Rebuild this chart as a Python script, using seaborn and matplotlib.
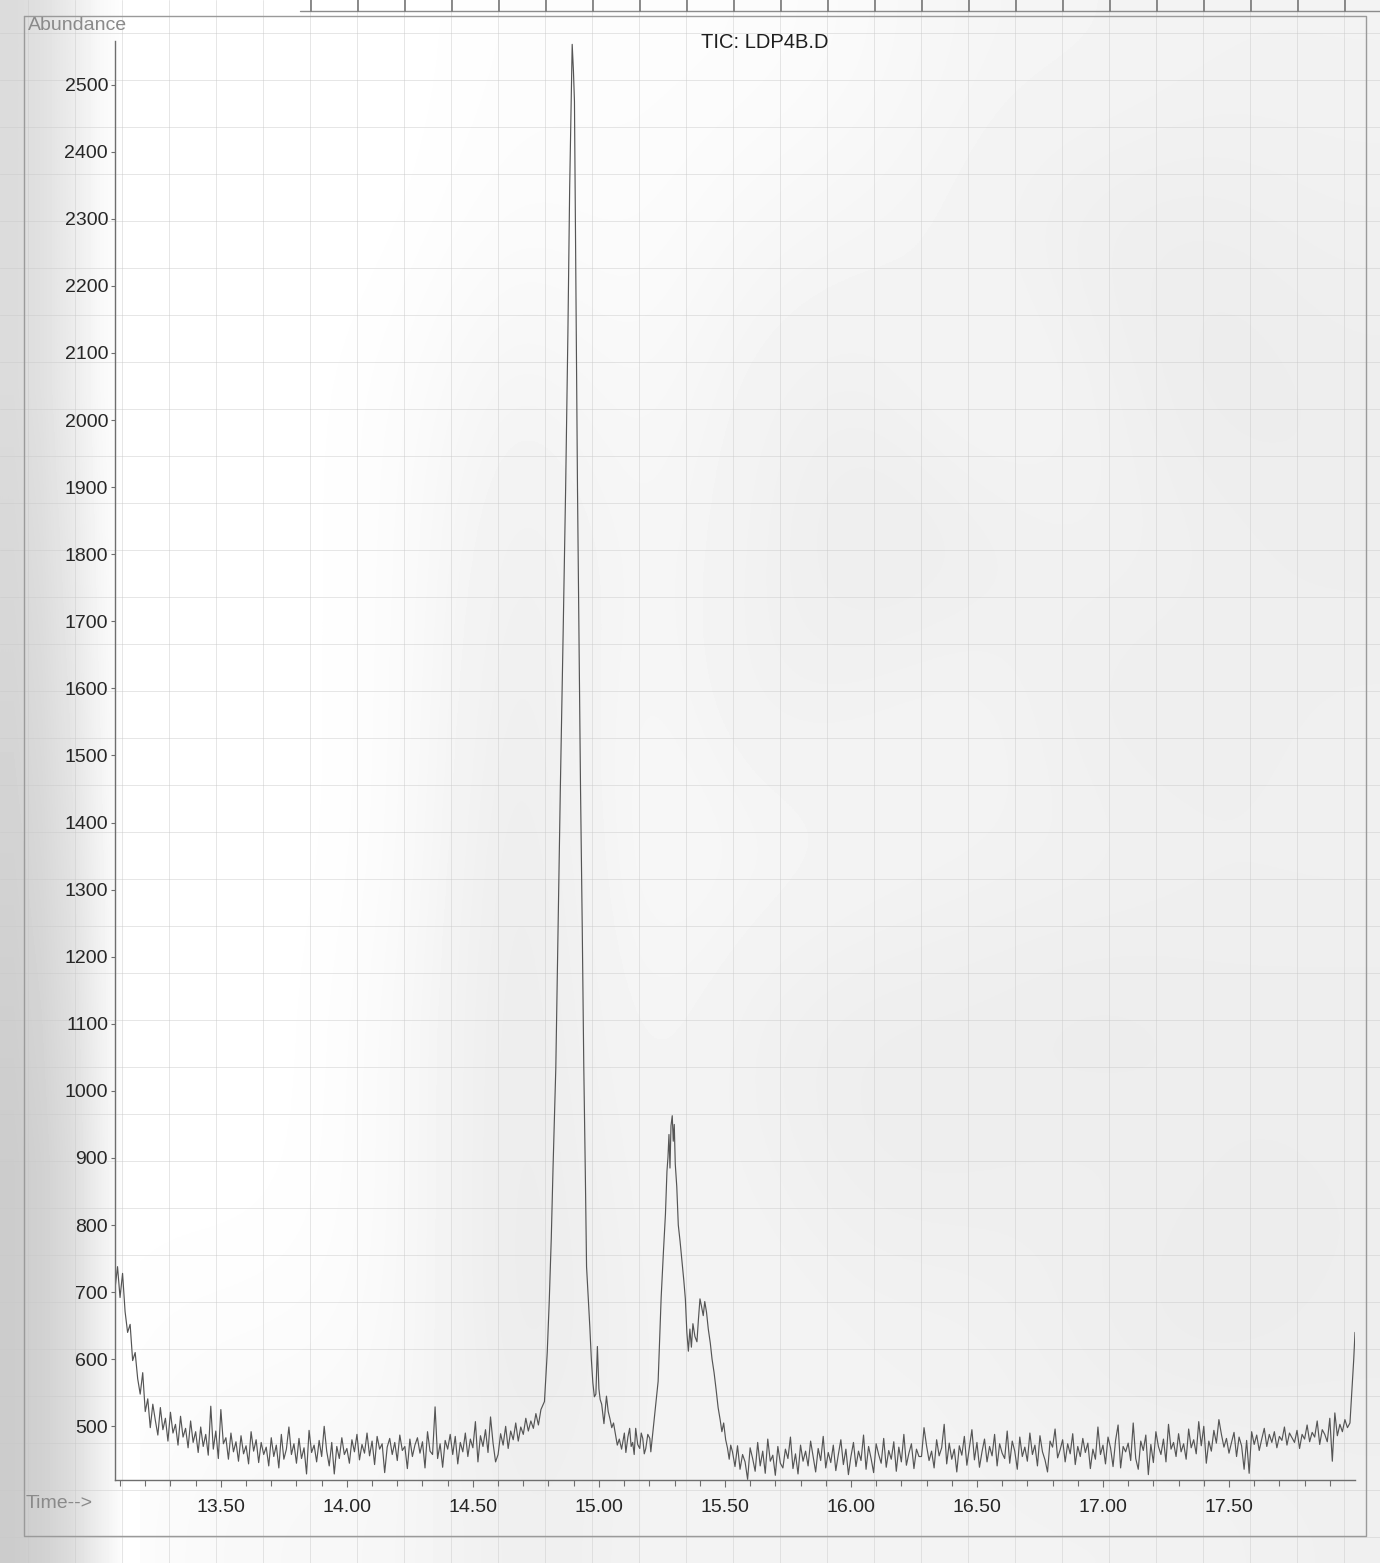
import numpy as np
import pandas as pd
import matplotlib
matplotlib.use("Agg")
import matplotlib.pyplot as plt
import seaborn as sns

# ---------------- TIC trace: LDP4B.D ----------------
# baseline before the main peak, one scan every 0.01 min from 13.08 min
base1_start = 13.08
base1_abund = [
    705, 738, 692, 728, 671, 640, 652, 598, 610, 571,
    548, 580, 522, 541, 498, 533, 509, 487, 528, 495,
    512, 478, 521, 490, 503, 472, 515, 484, 497, 468,
    508, 476, 492, 461, 499, 470, 488, 457, 530, 466,
    493, 452, 525, 474, 483, 451, 490, 462, 477, 448,
    486, 459, 471, 444, 492, 463, 480, 446, 476, 458,
    469, 441, 483, 455, 472, 438, 488, 451, 466, 499,
    458, 474, 445, 482, 452, 468, 429, 494, 461, 472,
    447, 479, 455, 500, 463, 441, 476, 429, 470, 452,
    483, 458, 467, 445, 480, 462, 488, 450, 473, 460,
    490, 456, 478, 443, 485, 466, 474, 431, 469, 482,
    458, 476, 449, 487, 464, 470, 437, 481, 455, 472,
    483, 460, 477, 438, 492, 463, 458, 529, 452, 474,
    439, 479, 466, 488, 458, 485, 444, 476, 462, 490,
    455, 481, 468, 507, 447, 486, 470, 495, 461, 514,
    475, 447, 458, 489, 472, 500, 467, 493, 480, 505,
    478, 499, 488, 512, 493, 508, 497, 519, 502, 525,
]

# main peak, valley and the second (shouldered) peak
peak_time = [
    14.784, 14.795, 14.803, 14.811, 14.818, 14.829, 14.838, 14.847, 14.858, 14.868,
    14.877, 14.884, 14.890, 14.894, 14.899, 14.903, 14.909, 14.915, 14.921, 14.927,
    14.934, 14.940, 14.946, 14.951, 14.958, 14.964, 14.970, 14.976, 14.982, 14.988,
    14.994, 15.000, 15.005, 15.011, 15.020, 15.030, 15.037, 15.044, 15.051, 15.058,
    15.065, 15.073, 15.081, 15.090, 15.101, 15.107, 15.115, 15.122, 15.128, 15.134,
    15.140, 15.146, 15.154, 15.162, 15.168, 15.174, 15.180, 15.186, 15.194, 15.202,
    15.206, 15.213, 15.222, 15.235, 15.241, 15.247, 15.256, 15.264, 15.270, 15.274,
    15.278, 15.282, 15.286, 15.291, 15.295, 15.299, 15.303, 15.309, 15.315, 15.322,
    15.330, 15.337, 15.343, 15.349, 15.355, 15.361, 15.367, 15.373, 15.381, 15.389,
    15.395, 15.401, 15.407, 15.414, 15.420, 15.427, 15.434, 15.442, 15.449, 15.457,
    15.465, 15.473, 15.481, 15.488, 15.495, 15.503, 15.510, 15.517, 15.523,
]
peak_abund = [
    537, 610, 687, 780, 885, 1034, 1240, 1451, 1680, 1898,
    2130, 2346, 2480, 2560, 2520, 2475, 2190, 1900, 1680, 1453,
    1240, 1036, 880, 738, 690, 648, 600, 565, 544, 548,
    619, 556, 540, 533, 504, 545, 522, 511, 498, 505,
    490, 472, 481, 466, 490, 461, 484, 497, 470, 476,
    458, 497, 473, 467, 490, 482, 459, 467, 488, 482,
    462, 487, 520, 567, 630, 692, 760, 816, 880, 901,
    935, 885, 948, 963, 925, 950, 891, 857, 800, 776,
    745, 717, 690, 640, 612, 645, 618, 653, 634, 626,
    660, 690, 679, 665, 686, 670, 645, 624, 600, 580,
    555, 528, 510, 492, 505, 480, 468, 451, 472,
]

# baseline after the peaks, one scan every 0.01 min from 15.53 min
base2_start = 15.53
base2_abund = [
    462, 440, 471, 436, 458, 447, 421, 468, 452, 433,
    476, 441, 463, 430, 481, 448, 457, 427, 470, 445,
    438, 466, 452, 484, 437, 459, 429, 472, 448, 463,
    441, 478, 455, 432, 467, 449, 485, 438, 461, 446,
    472, 434, 458, 480, 443, 466, 428, 455, 476, 440,
    463, 449, 487, 436, 470, 452, 431, 474, 458, 445,
    482, 439, 464, 451, 477, 433, 469, 447, 488, 442,
    460, 474, 437, 466, 455, 455, 498, 471, 449, 463,
    438, 480, 456, 468, 503, 444, 475, 451, 466, 432,
    471, 457, 485, 442, 468, 495, 450, 476, 439, 462,
    481, 447, 470, 456, 488, 441, 474, 460, 452, 493,
    445, 478, 463, 436, 484, 455, 469, 448, 490, 458,
    472, 441, 486, 462, 450, 432, 478, 469, 496, 453,
    465, 480, 447, 474, 459, 489, 443, 470, 455, 482,
    461, 475, 437, 466, 451, 499, 458, 472, 444, 484,
    468, 440, 479, 502, 438, 470, 462, 475, 449, 505,
    452, 436, 478, 464, 487, 428, 473, 446, 492, 470,
    458, 481, 447, 503, 466, 476, 455, 489, 462, 474,
    451, 496, 468, 480, 459, 507, 471, 500, 445, 478,
    463, 494, 475, 510, 488, 469, 482, 460, 476, 491,
    455, 484, 471, 436, 479, 430, 492, 473, 487, 464,
    481, 497, 470, 488, 476, 492, 468, 485, 479, 499,
    472, 490, 483, 476, 494, 467, 488, 481, 502, 477,
    491, 484, 508, 473, 495, 488, 477, 512, 448, 520,
    486, 503, 492, 510, 498,
]

# sharp rise at the end of the window
tail_time = [17.980, 17.988, 17.995, 18.000]
tail_abund = [505, 555, 600, 640]

# axis ticks
y_ticks = [500, 600, 700, 800, 900, 1000, 1100, 1200, 1300, 1400, 1500,
           1600, 1700, 1800, 1900, 2000, 2100, 2200, 2300, 2400, 2500]
x_ticks = [13.5, 14.0, 14.5, 15.0, 15.5, 16.0, 16.5, 17.0, 17.5]
x_tick_labels = ["13.50", "14.00", "14.50", "15.00", "15.50",
                 "16.00", "16.50", "17.00", "17.50"]
chart_title = "TIC: LDP4B.D"

# ---------------- assemble ----------------
t1 = base1_start + 0.01 * np.arange(len(base1_abund))
t2 = base2_start + 0.01 * np.arange(len(base2_abund))
df = pd.DataFrame({
    "time": np.concatenate([t1, peak_time, t2, tail_time]),
    "abundance": np.concatenate([base1_abund, peak_abund, base2_abund, tail_abund]),
})

sns.set_theme(style="white")
plt.rcParams["font.family"] = ["Liberation Sans", "DejaVu Sans"]

W, H = 1380, 1563
fig = plt.figure(figsize=(W / 100, H / 100), dpi=100, facecolor="white")

# ---- page background: paper tone, graph-paper grid, printout frame ----
bg = fig.add_axes([0, 0, 1, 1], zorder=0)
bg.set_xlim(0, W)
bg.set_ylim(H, 0)
bg.axis("off")

# uneven paper tone of the scanned sheet
paper_tone = np.array([
    [1.00, 1.00, 1.00, 1.00, 0.99, 0.99, 0.99, 0.98, 0.96, 0.96, 0.95, 0.95],
    [1.00, 1.00, 1.00, 1.00, 0.98, 0.99, 0.97, 0.96, 0.95, 0.93, 0.93, 0.94],
    [1.00, 1.00, 1.00, 0.99, 0.95, 0.98, 0.95, 0.94, 0.97, 0.95, 0.92, 0.93],
    [1.00, 1.00, 1.00, 0.99, 0.93, 0.97, 0.95, 0.92, 0.93, 0.95, 0.94, 0.93],
    [1.00, 1.00, 1.00, 0.99, 0.92, 0.98, 0.94, 0.95, 0.96, 0.93, 0.93, 0.94],
    [1.00, 1.00, 1.00, 0.99, 0.91, 0.98, 0.97, 0.96, 0.95, 0.95, 0.94, 0.94],
    [1.00, 1.00, 1.00, 0.98, 0.91, 0.97, 0.94, 0.93, 0.93, 0.92, 0.93, 0.93],
    [1.00, 1.00, 1.00, 0.98, 0.91, 0.96, 0.95, 0.93, 0.93, 0.94, 0.93, 0.93],
    [1.00, 0.99, 0.99, 0.98, 0.91, 0.95, 0.96, 0.95, 0.95, 0.93, 0.92, 0.93],
    [1.00, 0.98, 0.97, 0.97, 0.93, 0.95, 0.96, 0.95, 0.95, 0.95, 0.95, 0.94],
])
bg.imshow(paper_tone, cmap="gray", vmin=0, vmax=1, extent=(0, W, H, 0),
          aspect="auto", interpolation="bicubic", zorder=0)

shade = np.array([[0.86, 0.88, 0.92, 0.97, 1.0],
                  [0.80, 0.82, 0.86, 0.93, 1.0]])
bg.imshow(shade, cmap="gray", vmin=0, vmax=1, extent=(0, 140, H, 0),
          aspect="auto", interpolation="bilinear", zorder=0.5)

for gx in np.arange(28, W, 47):
    bg.plot([gx, gx], [0, H], color="#c8c8c8", lw=0.7, alpha=0.45, zorder=1)
for gy in np.arange(33, H, 47):
    bg.plot([0, W], [gy, gy], color="#c8c8c8", lw=0.7, alpha=0.45, zorder=1)

# row of cells above the printout
bg.plot([300, W], [11, 11], color="#8c8c8c", lw=1.0, zorder=2)
for cx in np.arange(311, W, 47):
    bg.plot([cx, cx], [0, 11], color="#777777", lw=1.2, zorder=2)

# printout frame
frame_col = "#9a9a9a"
bg.plot([24, 1366, 1366, 24, 24], [16, 16, 1536, 1536, 16],
        color=frame_col, lw=1.0, zorder=2)

fig.text(28 / W, 1 - 26 / H, "Abundance", color="#8a8a8a", fontsize=14,
         ha="left", va="center")
fig.text(26 / W, 1 - 1503 / H, "Time-->", color="#8a8a8a", fontsize=14,
         ha="left", va="center")

# ---- chromatogram axes ----
ax_left, ax_right, ax_top, ax_bottom = 115, 1355, 41, 1480
ax = fig.add_axes([ax_left / W, 1 - ax_bottom / H,
                   (ax_right - ax_left) / W, (ax_bottom - ax_top) / H], zorder=3)
ax.patch.set_alpha(0)

sns.lineplot(data=df, x="time", y="abundance", estimator=None, sort=False,
             color="#555555", lw=0.85, ax=ax)

ax.set_xlim(13.08, 18.0)
ax.set_ylim(420, 2565)
ax.set_xticks(x_ticks)
ax.set_xticklabels(x_tick_labels)
ax.set_xticks(np.arange(13.1, 18.0, 0.1), minor=True)
ax.set_yticks(y_ticks)
ax.set_yticklabels([str(v) for v in y_ticks])
ax.set_xlabel("")
ax.set_ylabel("")

for side in ("top", "right"):
    ax.spines[side].set_visible(False)
for side in ("left", "bottom"):
    ax.spines[side].set_color("#6e6e6e")
    ax.spines[side].set_linewidth(1.0)

ax.tick_params(axis="y", which="major", direction="out", length=3, width=0.8,
               color="#6e6e6e", pad=2, labelsize=14, labelcolor="#262626", left=True)
ax.tick_params(axis="x", which="major", direction="out", length=5, width=0.8,
               color="#6e6e6e", pad=9, labelsize=14, labelcolor="#262626", bottom=True)
ax.tick_params(axis="x", which="minor", direction="out", length=4, width=0.8,
               color="#6e6e6e", bottom=True)
ax.grid(False)

fig.text(765 / W, 1 - 43 / H, chart_title, ha="center", va="center",
         fontsize=14.5, color="#1e1e1e", zorder=4)

fig.savefig("out.png", dpi=100, facecolor="white")
